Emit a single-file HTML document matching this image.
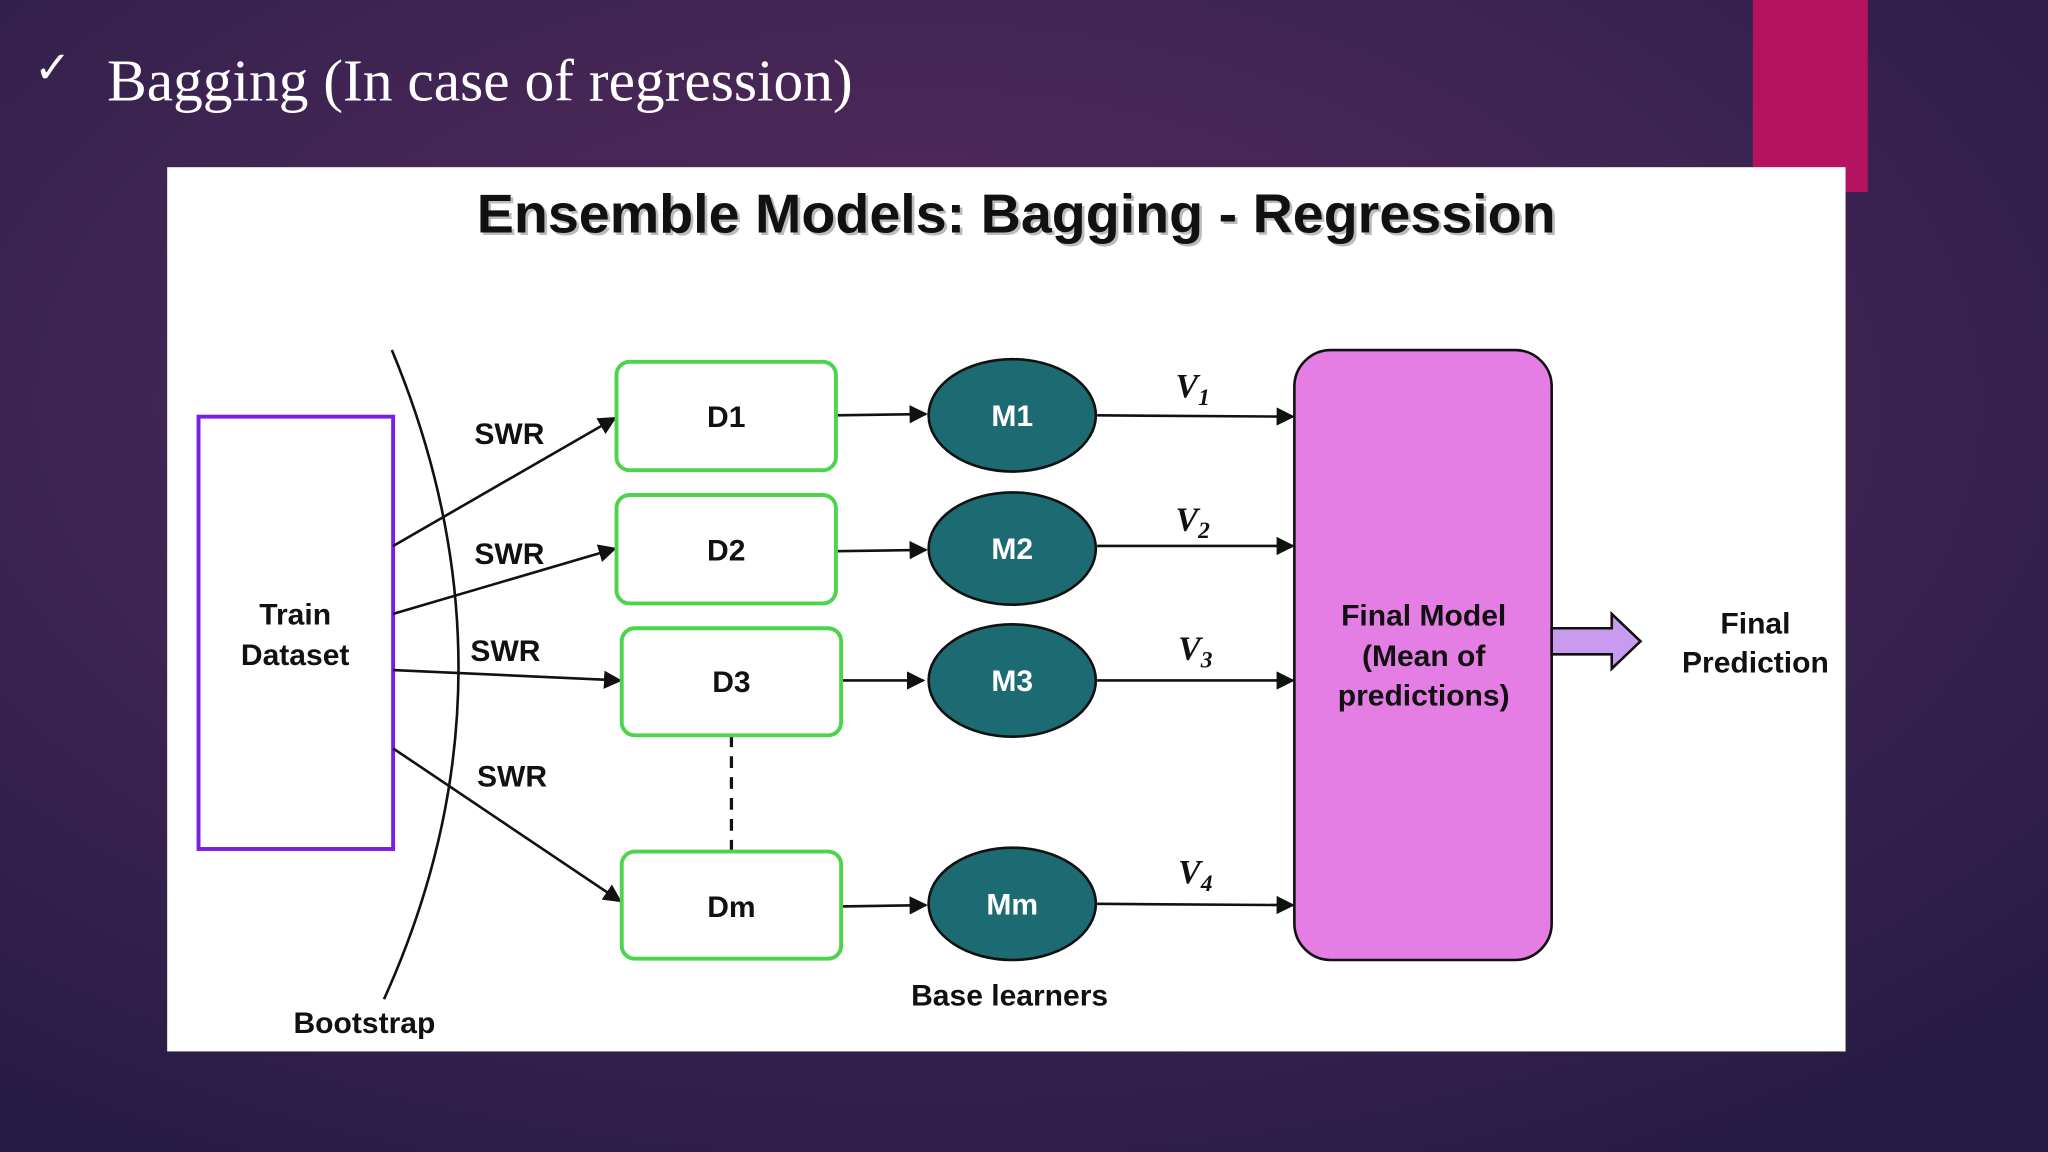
<!DOCTYPE html>
<html><head><meta charset="utf-8"><style>
html,body{margin:0;padding:0;width:2048px;height:1152px;overflow:hidden;background:#2c1d45}
</style></head><body>
<svg width="2048" height="1152" viewBox="0 0 1568 882" xmlns="http://www.w3.org/2000/svg">
<defs>
<radialGradient id="bg" cx="0.45" cy="0.35" r="0.75">
<stop offset="0" stop-color="#5a2a5e"/><stop offset="0.55" stop-color="#3e2452"/><stop offset="1" stop-color="#271c44"/>
</radialGradient>
<marker id="ah" viewBox="0 0 10 10" refX="9" refY="5" markerWidth="7" markerHeight="7" orient="auto"><path d="M0,0 L10,5 L0,10 z" fill="#111"/></marker>
</defs>
<rect width="1568" height="882" fill="url(#bg)"/>
<rect x="1342" y="0" width="88" height="147" fill="#b5135f"/>
<text x="26" y="63" font-family="DejaVu Sans, sans-serif" font-size="34" fill="#fff">✓</text>
<text x="82" y="77" font-family="Liberation Serif, serif" font-size="45.5" fill="#fff">Bagging (In case of regression)</text>
<rect x="128" y="128" width="1285" height="677" fill="#fff"/>
<g font-family="Liberation Sans, sans-serif" font-weight="bold" text-anchor="middle">
<text x="778" y="178" font-size="42" fill="#bbb" transform="translate(2,2)" textLength="826" lengthAdjust="spacingAndGlyphs">Ensemble Models: Bagging - Regression</text>
<text x="778" y="178" font-size="42" fill="#111" textLength="826" lengthAdjust="spacingAndGlyphs">Ensemble Models: Bagging - Regression</text>
<rect x="152" y="319" width="149" height="331" fill="none" stroke="#7a1fe0" stroke-width="3"/>
<text x="226" y="478" font-size="23" fill="#111">Train</text>
<text x="226" y="509" font-size="23" fill="#111">Dataset</text>
<path d="M300,268 Q405,520 294,765" fill="none" stroke="#111" stroke-width="2"/>
<text x="279" y="791" font-size="23" fill="#111">Bootstrap</text>
<g stroke="#111" stroke-width="2" fill="none" marker-end="url(#ah)">
<line x1="301" y1="418" x2="471" y2="320"/>
<line x1="301" y1="470" x2="471" y2="420"/>
<line x1="301" y1="513" x2="475" y2="521"/>
<line x1="301" y1="573" x2="475" y2="690"/>
<line x1="640" y1="318" x2="709" y2="317"/>
<line x1="640" y1="422" x2="709" y2="421"/>
<line x1="644" y1="521" x2="707" y2="521"/>
<line x1="644" y1="694" x2="709" y2="693"/>
<line x1="840" y1="318" x2="990" y2="319"/>
<line x1="840" y1="418" x2="990" y2="418"/>
<line x1="840" y1="521" x2="990" y2="521"/>
<line x1="840" y1="692" x2="990" y2="693"/>
</g>
<g font-size="23" fill="#111">
<text x="390" y="340">SWR</text><text x="390" y="432">SWR</text>
<text x="387" y="506">SWR</text><text x="392" y="602">SWR</text>
</g>
<line x1="560" y1="563" x2="560" y2="652" stroke="#111" stroke-width="2.5" stroke-dasharray="9,7"/>
<g fill="#fff" stroke="#4cd44c" stroke-width="3">
<rect x="472" y="277" width="168" height="83" rx="10"/>
<rect x="472" y="379" width="168" height="83" rx="10"/>
<rect x="476" y="481" width="168" height="82" rx="10"/>
<rect x="476" y="652" width="168" height="82" rx="10"/>
</g>
<g font-size="23" fill="#111">
<text x="556" y="327">D1</text><text x="556" y="429">D2</text>
<text x="560" y="530">D3</text><text x="560" y="702">Dm</text>
</g>
<g fill="#1c6b73" stroke="#111" stroke-width="2">
<ellipse cx="775" cy="318" rx="64" ry="43"/>
<ellipse cx="775" cy="420" rx="64" ry="43"/>
<ellipse cx="775" cy="521" rx="64" ry="43"/>
<ellipse cx="775" cy="692" rx="64" ry="43"/>
</g>
<g font-size="23" fill="#fff">
<text x="775" y="326">M1</text><text x="775" y="428">M2</text>
<text x="775" y="529">M3</text><text x="775" y="700">Mm</text>
</g>
<text x="773" y="770" font-size="23" fill="#111">Base learners</text>
<rect x="991" y="268" width="197" height="467" rx="28" fill="#e47de4" stroke="#111" stroke-width="2"/>
<g font-size="23" fill="#111">
<text x="1090" y="479">Final Model</text>
<text x="1090" y="510">(Mean of</text>
<text x="1090" y="540">predictions)</text>
<text x="1344" y="485">Final</text>
<text x="1344" y="515">Prediction</text>
</g>
<path d="M1188,481 L1234,481 L1234,470 L1256,491 L1234,512 L1234,501 L1188,501 z" fill="#c89af0" stroke="#111" stroke-width="2"/>
</g>
<g font-family="Liberation Serif, serif" font-style="italic" font-weight="bold" fill="#111">
<text x="900" y="304" font-size="26">V<tspan font-size="18" dy="6">1</tspan></text>
<text x="900" y="406" font-size="26">V<tspan font-size="18" dy="6">2</tspan></text>
<text x="902" y="505" font-size="26">V<tspan font-size="18" dy="6">3</tspan></text>
<text x="902" y="676" font-size="26">V<tspan font-size="18" dy="6">4</tspan></text>
</g>
</svg>
</body></html>
